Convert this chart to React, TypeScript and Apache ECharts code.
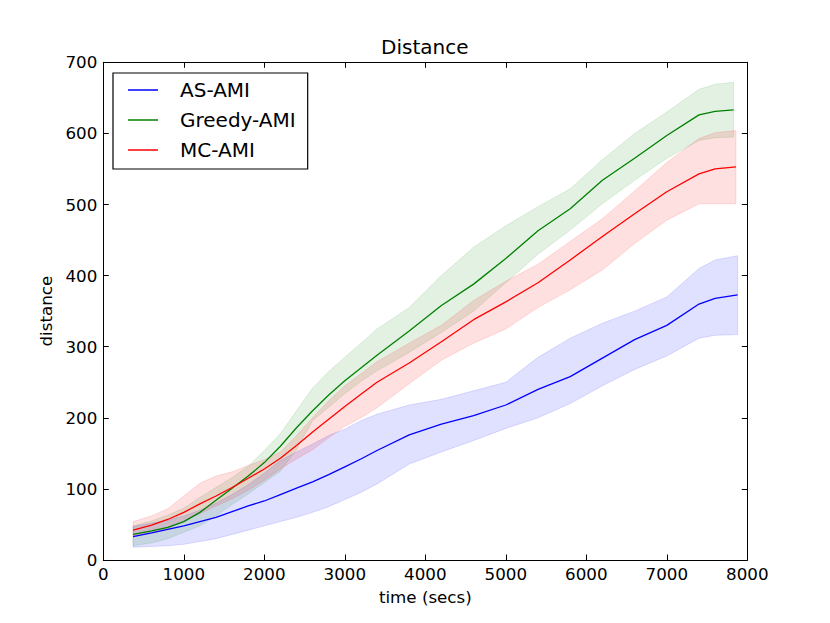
import React, { useEffect, useRef } from "react";
import * as echarts from "echarts";

const FONT = "DejaVu Sans";

const seriesNames = ["AS-AMI", "Greedy-AMI", "MC-AMI"];

const asTime = [370, 600, 800, 1000, 1200, 1400, 1600, 1800, 2000, 2200, 2400, 2600, 2800, 3000, 3200, 3400, 3800, 4200, 4600, 5000, 5400, 5800, 6200, 6600, 7000, 7400, 7600, 7880];
const asMean = [33, 38, 43, 48, 54, 60, 68, 76, 83, 92, 101, 110, 120, 131, 142, 154, 176, 191, 203, 218, 240, 258, 284, 310, 330, 360, 368, 373];
const asUpper = [47, 52, 56, 62, 70, 80, 92, 106, 122, 140, 152, 163, 175, 184, 196, 205, 218, 226, 238, 250, 285, 312, 333, 350, 370, 410, 422, 428];
const asLower = [18, 19, 20, 22, 26, 30, 36, 42, 48, 54, 60, 67, 75, 85, 95, 107, 135, 152, 168, 185, 200, 220, 245, 268, 287, 312, 316, 317];

const greedyTime = [370, 600, 800, 1000, 1200, 1400, 1600, 1800, 2000, 2200, 2400, 2600, 2800, 3000, 3200, 3400, 3800, 4200, 4600, 5000, 5400, 5800, 6200, 6600, 7000, 7400, 7600, 7830];
const greedyMean = [36, 41, 46, 54, 67, 84, 101, 118, 137, 160, 186, 210, 232, 252, 270, 288, 322, 358, 388, 424, 463, 494, 534, 565, 597, 626, 631, 633];
const greedyUpper = [48, 55, 63, 73, 88, 102, 116, 132, 154, 178, 210, 242, 265, 285, 305, 325, 355, 400, 440, 470, 497, 522, 563, 600, 630, 662, 669, 672];
const greedyLower = [20, 24, 30, 39, 48, 62, 78, 93, 109, 125, 155, 196, 215, 234, 251, 266, 292, 320, 350, 390, 430, 464, 501, 534, 565, 590, 594, 595];

const mcTime = [370, 600, 800, 1000, 1200, 1400, 1600, 1800, 2000, 2200, 2400, 2600, 2800, 3000, 3200, 3400, 3800, 4200, 4600, 5000, 5400, 5800, 6200, 6600, 7000, 7400, 7600, 7860];
const mcMean = [42, 49, 57, 67, 79, 90, 102, 115, 128, 143, 161, 180, 198, 216, 233, 250, 277, 307, 338, 363, 390, 422, 455, 487, 518, 543, 550, 553];
const mcUpper = [54, 62, 72, 90, 108, 118, 124, 133, 141, 152, 175, 200, 224, 245, 262, 279, 305, 330, 365, 392, 416, 448, 480, 519, 559, 593, 601, 604];
const mcLower = [34, 38, 44, 55, 65, 76, 86, 98, 112, 128, 142, 155, 172, 188, 200, 214, 248, 281, 305, 325, 355, 380, 408, 445, 478, 501, 501, 501];

const xTicks = { min: 0, max: 8000, interval: 1000 };
const yTicks = { min: 0, max: 700, interval: 100 };

const colors = ["#0000ff", "#008000", "#ff0000"];
const bandColors = ["rgba(0,0,255,0.12)", "rgba(0,128,0,0.11)", "rgba(255,0,0,0.12)"];

function band(name: string, xs: number[], lo: number[], hi: number[], color: string) {
  return {
    type: "custom",
    name,
    silent: true,
    z: 1,
    data: xs.map((x, i) => [x, lo[i], hi[i]]),
    encode: { x: 0, y: [1, 2] },
    renderItem: (params: any, api: any) => {
      if (params.dataIndex !== 0) return null;
      const top = xs.map((x, i) => api.coord([x, hi[i]]));
      const bottom = xs.map((x, i) => api.coord([x, lo[i]])).reverse();
      return {
        type: "polygon",
        shape: { points: top.concat(bottom) },
        style: { fill: color, stroke: color, lineWidth: 1 },
      };
    },
  };
}

function line(name: string, xs: number[], ys: number[], color: string) {
  return {
    type: "line",
    name,
    data: xs.map((x, i) => [x, ys[i]]),
    symbol: "none",
    color,
    lineStyle: { width: 1.3, color },
    z: 3,
  };
}

export default function App() {
  const ref = useRef<HTMLDivElement>(null);
  useEffect(() => {
    const chart = echarts.init(ref.current!, null, { renderer: "svg" });
    const axisCommon = {
      axisLine: { show: true, onZero: false, lineStyle: { color: "#000", width: 1 } },
      axisTick: { show: true, inside: true, length: 5.5, lineStyle: { color: "#000", width: 1 } },
      splitLine: { show: false },
    };
    const labelStyle = { color: "#000", fontSize: 16.7, fontFamily: FONT };
    const plain = (v: number) => String(v);
    chart.setOption({
      animation: false,
      backgroundColor: "#fff",
      title: {
        text: "Distance",
        left: 381,
        top: 37,
        padding: 0,
        textStyle: { fontSize: 20, fontWeight: "normal", color: "#000", fontFamily: FONT },
      },
      legend: {
        orient: "vertical",
        left: 113,
        top: 73,
        padding: [7, 12, 9, 15],
        itemWidth: 30,
        itemHeight: 1.5,
        itemGap: 10,
        borderColor: "#000",
        borderWidth: 1.2,
        borderRadius: 0,
        backgroundColor: "#fff",
        selectedMode: false,
        data: seriesNames.map((n) => ({ name: n, icon: "rect" })),
        textStyle: {
          fontSize: 20,
          lineHeight: 20,
          color: "#000",
          fontFamily: FONT,
          padding: [0, 0, 0, 17],
        },
      },
      grid: { left: 103.3, right: 82.7, top: 62.3, bottom: 63, containLabel: false },
      xAxis: [
        {
          type: "value",
          ...xTicks,
          position: "bottom",
          ...axisCommon,
          axisLabel: { ...labelStyle, margin: 5, formatter: plain },
          name: "time (secs)",
          nameLocation: "middle",
          nameGap: 28,
          nameTextStyle: { ...labelStyle },
        },
        {
          type: "value",
          ...xTicks,
          position: "top",
          ...axisCommon,
          axisLabel: { show: false },
        },
      ],
      yAxis: [
        {
          type: "value",
          ...yTicks,
          position: "left",
          ...axisCommon,
          axisLabel: { ...labelStyle, margin: 6, formatter: plain },
          name: "distance",
          nameLocation: "middle",
          nameGap: 46,
          nameTextStyle: { ...labelStyle },
        },
        {
          type: "value",
          ...yTicks,
          position: "right",
          ...axisCommon,
          axisLabel: { show: false },
        },
      ],
      series: [
        band("AS-AMI band", asTime, asLower, asUpper, bandColors[0]),
        band("Greedy-AMI band", greedyTime, greedyLower, greedyUpper, bandColors[1]),
        band("MC-AMI band", mcTime, mcLower, mcUpper, bandColors[2]),
        line(seriesNames[0], asTime, asMean, colors[0]),
        line(seriesNames[1], greedyTime, greedyMean, colors[1]),
        line(seriesNames[2], mcTime, mcMean, colors[2]),
      ],
    });
    return () => chart.dispose();
  }, []);
  return (
    <div
      ref={ref}
      style={{ position: "fixed", left: 0, top: 0, width: 830, height: 623, background: "#fff" }}
    />
  );
}
